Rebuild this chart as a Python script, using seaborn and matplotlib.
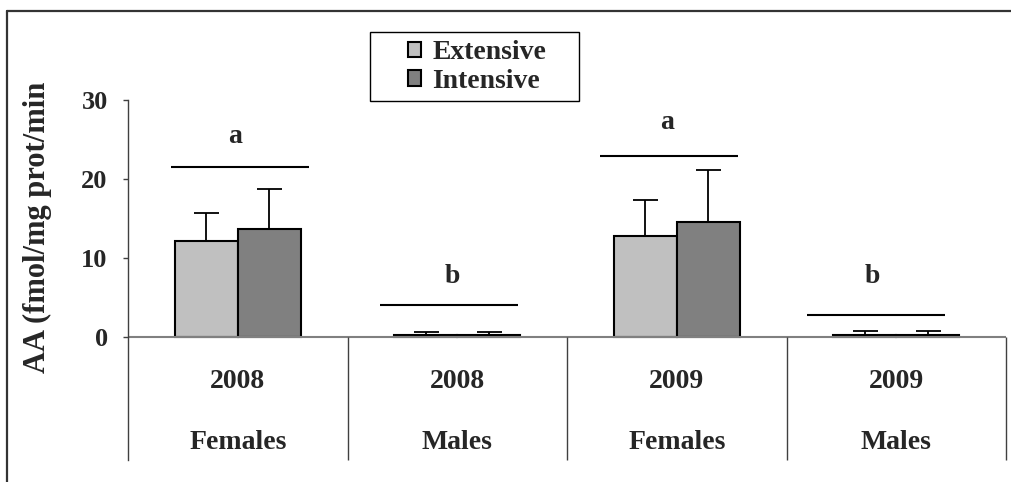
import matplotlib
matplotlib.use("Agg")
import matplotlib.pyplot as plt
from matplotlib.patches import Rectangle
from matplotlib.lines import Line2D
import pandas as pd
import seaborn as sns

# ---- data -------------------------------------------------------------
groups = ["2008 Females", "2008 Males", "2009 Females", "2009 Males"]
years = ["2008", "2008", "2009", "2009"]
sexes = ["Females", "Males", "Females", "Males"]
systems = ["Extensive", "Intensive"]

extensive = [12.1, 0.2, 12.8, 0.2]
intensive = [13.7, 0.2, 14.6, 0.2]
extensive_err = [3.6, 0.4, 4.5, 0.55]
intensive_err = [5.0, 0.4, 6.5, 0.55]

letters = ["a", "b", "a", "b"]
line_levels = [21.5, 4.0, 22.9, 2.8]
letter_levels = [25.4, 7.6, 27.2, 7.6]

y_ticks = [0, 10, 20, 30]
y_label = "AA (fmol/mg prot/min"

# ---- style ------------------------------------------------------------
sns.set_style("white")
plt.rcParams["font.family"] = ["Liberation Serif", "DejaVu Serif"]
plt.rcParams["font.weight"] = "bold"

colors = {"Extensive": "#C0C0C0", "Intensive": "#808080"}

df = pd.DataFrame({
    "group": groups * 2,
    "system": [systems[0]] * len(groups) + [systems[1]] * len(groups),
    "value": extensive + intensive,
})

fig = plt.figure(figsize=(10.12, 4.82), dpi=100)
ax = fig.add_axes([0.1265, 0.0456, 0.8676, 0.7469])

sns.barplot(data=df, x="group", y="value", hue="system", order=groups,
            hue_order=systems, palette=colors, edgecolor="black",
            linewidth=1.5, width=0.575, errorbar=None, ax=ax)

handles, labels = ax.get_legend_handles_labels()
if ax.get_legend() is not None:
    ax.get_legend().remove()

# one-sided (upper) error bars on each bar
for container, errs in zip(ax.containers, [extensive_err, intensive_err]):
    xs = [p.get_x() + p.get_width() / 2 for p in container]
    hs = [p.get_height() for p in container]
    ax.errorbar(xs, hs, yerr=[[0] * len(errs), errs], fmt="none",
                ecolor="black", elinewidth=1.3, capsize=9, capthick=1.3,
                zorder=3)

# axis layout
ax.set_xlim(-0.5, 3.5)
ax.set_ylim(-15.57, 30)
ax.set_yticks(y_ticks)
ax.set_yticklabels([str(t) for t in y_ticks], fontsize=19, fontweight="bold")
ax.set_xticks([])
ax.set_xlabel("")
ax.set_ylabel("")
ax.tick_params(axis="y", left=True, direction="out", length=3.6, width=1,
               color="#404040", pad=11)
for side in ("top", "right", "bottom"):
    ax.spines[side].set_visible(False)
ax.spines["left"].set_color("#404040")
ax.spines["left"].set_linewidth(1)

# baseline and category separators
ax.axhline(0, color="#808080", lw=1.5, zorder=1)
ax.vlines([0.5, 1.5, 2.5, 3.5], -15.57, 0, color="#404040", lw=1,
          clip_on=False)

# category labels below the baseline
for i, (yr, sx) in enumerate(zip(years, sexes)):
    ax.text(i, -5.57, yr, ha="center", va="center", fontsize=20,
            fontweight="bold")
    ax.text(i, -13.3, sx, ha="center", va="center", fontsize=20,
            fontweight="bold")

# significance groupings
spans = [(-0.305, 0.323), (-0.351, 0.278), (-0.348, 0.278), (-0.408, 0.221)]
letter_shift = [-0.014, -0.024, -0.046, -0.108]
for i, (lt, ly, ty) in enumerate(zip(letters, line_levels, letter_levels)):
    x0, x1 = spans[i]
    ax.hlines(ly, i + x0, i + x1, color="black", lw=1.5)
    ax.text(i + letter_shift[i], ty, lt, ha="center", va="center",
            fontsize=20, fontweight="bold")

# y-axis title
fig.text(37 / 1012, 1 - 227.5 / 482, y_label, rotation=90, ha="center",
         va="center", fontsize=22, fontweight="bold")

# legend with its own box
fig.legend(handles, labels, loc="center",
           bbox_to_anchor=(477 / 1012, 1 - 67 / 482), frameon=False,
           prop={"size": 20, "weight": "bold"}, handlelength=0.5,
           handleheight=0.5, handletextpad=0.4, labelspacing=0.12,
           borderpad=0)
fig.add_artist(Rectangle((370 / 1012, 1 - 101 / 482), 209 / 1012, 69 / 482,
                         transform=fig.transFigure, fill=False,
                         edgecolor="black", lw=1))

# outer frame: top and left edges of the chart border
frame_x = 7.5 / 1012
frame_y = 1 - 10.5 / 482
fig.add_artist(Line2D([frame_x, 1.0], [frame_y, frame_y],
                      transform=fig.transFigure, color="#333333", lw=1.6))
fig.add_artist(Line2D([frame_x, frame_x], [0.0, frame_y],
                      transform=fig.transFigure, color="#333333", lw=1.6))

fig.savefig("out.png", dpi=100)
